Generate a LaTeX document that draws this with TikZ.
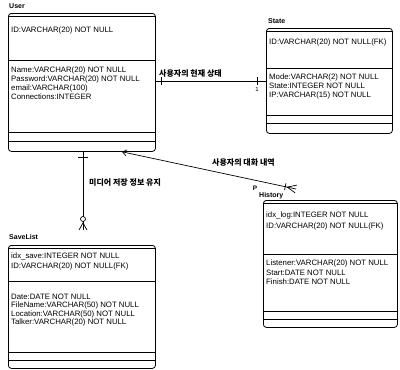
\documentclass[tikz,border=0pt]{standalone}
\usepackage{fontspec}
\setmainfont{Liberation Sans}
\newfontfamily\kr{Noto Sans CJK KR}
\usetikzlibrary{arrows.meta,calc}
\begin{document}
\begin{tikzpicture}[x=1pt,y=-1pt,
 ent/.style={draw, rounded corners=3pt, anchor=north west, inner sep=0pt, line width=0.8pt},
 ttl/.style={anchor=west, font=\fontsize{7}{8}\selectfont\bfseries, inner sep=0pt},
 attr/.style={anchor=west, font=\fontsize{7.8}{9}\selectfont, inner sep=0pt},
 rel/.style={anchor=west, font=\kr\bfseries\fontsize{8}{9}\selectfont, inner sep=0pt},
 sep/.style={line width=0.7pt},
 con/.style={line width=0.7pt}]
\useasboundingbox (0,0) rectangle (400,370);
\fill[white] (0,0) rectangle (400,370);

% ---------- User ----------
\node[ttl] (userT) at (9,6) {User};
\node[ent, minimum width=147pt, minimum height=138pt] (user) at (8,13) {};
\draw[sep] (8,16) -- (155,16);
\node[attr] (u1) at (11,30) {ID:VARCHAR(20) NOT NULL};
\draw[sep] (8,60) -- (155,60);
\node[attr] (u2) at (11,70) {Name:VARCHAR(20) NOT NULL};
\node[attr] (u3) at (11,79) {Password:VARCHAR(20) NOT NULL};
\node[attr] (u4) at (11,88) {email:VARCHAR(100)};
\node[attr] (u5) at (11,97) {Connections:INTEGER};
\draw[sep] (8,132) -- (155,132);
\draw[sep] (8,141) -- (155,141);

% ---------- State ----------
\node[ttl] (stateT) at (268,21) {State};
\node[ent, minimum width=126pt, minimum height=105pt] (state) at (266,28) {};
\draw[sep] (266,31) -- (392,31);
\node[attr] (s1) at (269,42) {ID:VARCHAR(20) NOT NULL(FK)};
\draw[sep] (266,68) -- (392,68);
\node[attr] (s2) at (269,77) {Mode:VARCHAR(2) NOT NULL};
\node[attr] (s3) at (269,86) {State:INTEGER NOT NULL};
\node[attr] (s4) at (269,95) {IP:VARCHAR(15) NOT NULL};
\draw[sep] (266,115) -- (392,115);
\draw[sep] (266,123) -- (392,123);

% ---------- SaveList ----------
\node[ttl] (saveT) at (9,237) {SaveList};
\node[ent, minimum width=147pt, minimum height=123pt] (save) at (8,245) {};
\draw[sep] (8,248) -- (155,248);
\node[attr] (v1) at (11,256) {idx\_save:INTEGER NOT NULL};
\node[attr] (v2) at (11,266) {ID:VARCHAR(20) NOT NULL(FK)};
\draw[sep] (8,281) -- (155,281);
\node[attr] (v3) at (11,297) {Date:DATE NOT NULL};
\node[attr] (v4) at (11,305.5) {FileName:VARCHAR(50) NOT NULL};
\node[attr] (v5) at (11,314) {Location:VARCHAR(50) NOT NULL};
\node[attr] (v6) at (11,322.5) {Talker:VARCHAR(20) NOT NULL};
\draw[sep] (8,352) -- (155,352);
\draw[sep] (8,360) -- (155,360);

% ---------- History ----------
\node[ttl] (histT) at (259,196) {History};
\node[ent, minimum width=134pt, minimum height=127pt] (hist) at (263,200) {};
\draw[sep] (263,203) -- (397,203);
\node[attr] (h1) at (266,215) {idx\_log:INTEGER NOT NULL};
\node[attr] (h2) at (266,226) {ID:VARCHAR(20) NOT NULL(FK)};
\draw[sep] (263,254) -- (397,254);
\node[attr] (h3) at (266,263) {Listener:VARCHAR(20) NOT NULL};
\node[attr] (h4) at (266,273) {Start:DATE NOT NULL};
\node[attr] (h5) at (266,282) {Finish:DATE NOT NULL};
\draw[sep] (263,311) -- (397,311);
\draw[sep] (263,319) -- (397,319);

% ---------- User - State ----------
\coordinate (r1) at (0,81);
\draw[con] (user.east |- r1) -- (state.west |- r1);
\coordinate (t1) at (161,81);
\coordinate (t2) at (257,81);
\draw[con] (t1) ++(0,-4) -- ++(0,8);
\draw[con] (t2) ++(0,-4) -- ++(0,8);
\node[font=\fontsize{6}{7}\selectfont, inner sep=0pt] (one) at (257,89) {1};
\node[rel] (lab1) at (159,73) {사용자의 현재 상태};

% ---------- User - SaveList ----------
\coordinate (r2) at (83,0);
\coordinate (e2) at (83,230);
\draw[con] (user.south -| r2) -- (e2);
\coordinate (t3) at (83,157);
\draw[con] (t3) ++(-5,0) -- ++(10,0);
\coordinate (c2) at (83,219);
\draw[con, fill=white] (c2) circle (2.5pt);
\coordinate (cf2) at (83,223);
\draw[con] (79,230) -- (cf2) -- (87,230);
\node[rel] (lab2) at (89,183) {미디어 저장 정보 유지};

% ---------- User - History ----------
\coordinate (r3) at (122,0);
\coordinate (e3) at (296,189);
\draw[con, {Straight Barb[length=4pt,width=6pt]}-] (user.south -| r3) -- (e3);
\coordinate (cf3) at ($(e3)!9pt!(user.south -| r3)$);
\draw[con] ($(e3)!4pt!90:(cf3)$) -- (cf3) -- ($(e3)!4pt!-90:(cf3)$);
\coordinate (bar3) at ($(e3)!11pt!(user.south -| r3)$);
\draw[con] ($(bar3)!3.5pt!90:(e3)$) -- ($(bar3)!3.5pt!-90:(e3)$);
\node[rel] (lab3) at (212,163) {사용자의 대화 내역};
\node[font=\fontsize{6.5}{7}\selectfont\bfseries, inner sep=0pt] (pp) at (255,188) {P};
\end{tikzpicture}
\end{document}
